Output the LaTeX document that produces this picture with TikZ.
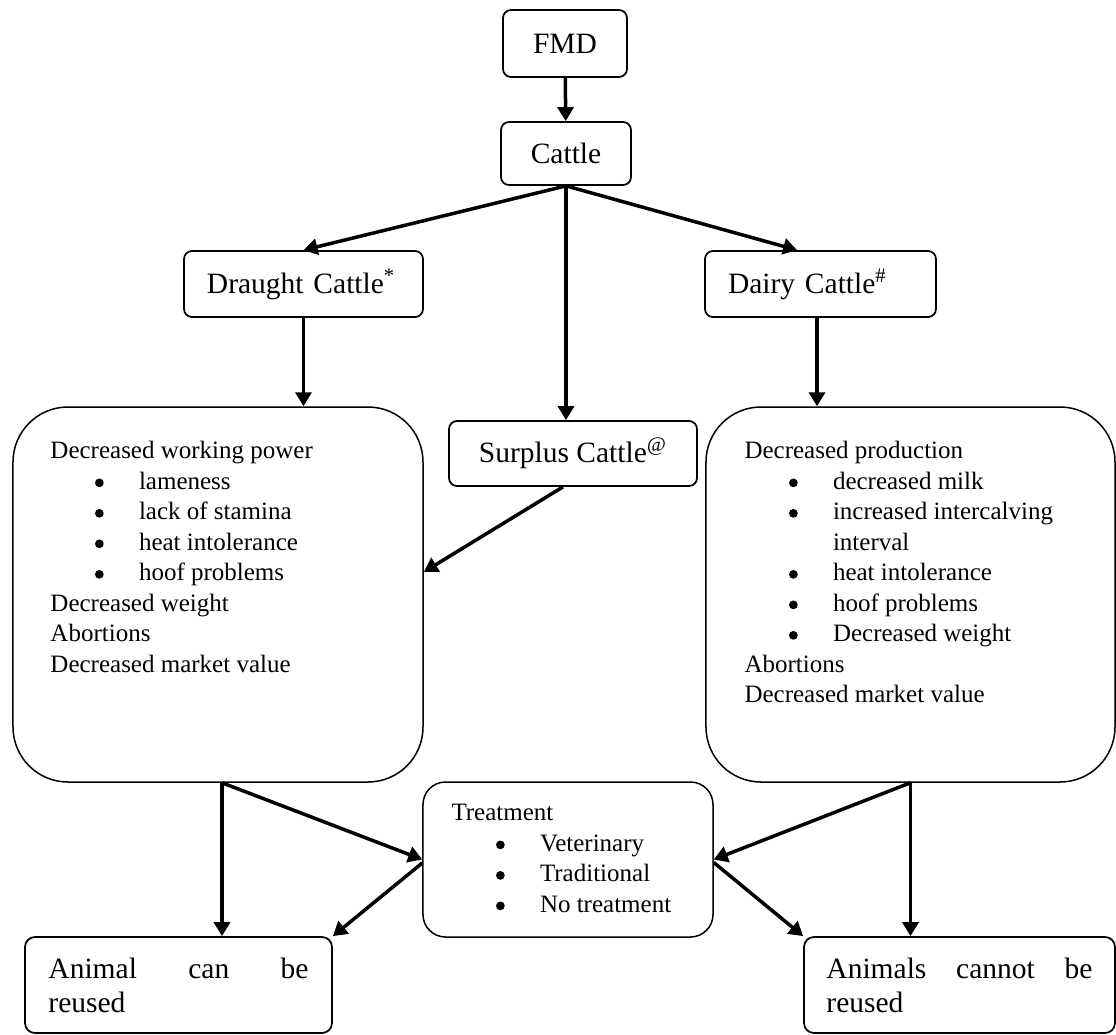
\documentclass[tikz,border=0pt]{standalone}
\usepackage{fontspec}
\setmainfont{Liberation Serif}
\usepackage{tikz}
\usetikzlibrary{arrows.meta}

\newcommand{\blt}{\hspace*{17.8pt}\makebox[17.6pt][l]{\tikz[x=1pt, y=1pt, baseline=-2.6pt]\fill (0,0) circle [radius=1.75];}}% bullet line

\tikzset{
  box/.style={draw, line width=0.7pt, rounded corners=3.2pt, inner sep=0pt,
    font=\fontsize{11.8}{13.6}\selectfont},
  bigbox/.style={draw, line width=0.6pt, rounded corners=22pt, inner sep=0pt},
  listtext/.style={anchor=north west, inner sep=0pt, align=left,
    font=\fontsize{10}{12.2}\selectfont},
  arr/.style={line width=1.4pt, -{Triangle[length=5.6pt, width=6.4pt]}}
}

\begin{document}
\begin{tikzpicture}[x=0.4pt, y=-0.4pt]
\useasboundingbox (0,0) rectangle (1116,1035);
% top of the tree
\node[box, minimum width=49.6pt, minimum height=26.8pt] (fmd) at (565,43.5) {FMD};
\node[box, minimum width=52pt, minimum height=25.2pt] (cattle) at (566,153.5) {Cattle};
% the three kinds of cattle
\node[box, minimum height=26.4pt, text width=77.2pt, inner xsep=9.2pt, align=left]
  (draught) at (303.5,284) {Draught Cattle\textsuperscript{*}};
\node[box, minimum height=26.4pt, text width=74pt, inner xsep=9.2pt, align=left]
  (dairy) at (820.5,284) {Dairy Cattle\textsuperscript{\#}};
\node[box, minimum width=99.2pt, minimum height=26pt] (surplus) at (573,453.5)
  {Surplus Cattle\textsuperscript{\textit{@}}};
% effects
\node[bigbox, minimum width=164pt, minimum height=150pt] (lbox) at (218,594.5) {};
\node[bigbox, minimum width=163.6pt, minimum height=150pt] (rbox) at (910.5,594.5) {};
\node[listtext] (ltext) at (50,441) {Decreased working power\\
  \blt lameness\\ \blt lack of stamina\\ \blt heat intolerance\\ \blt hoof problems\\
  Decreased weight\\ Abortions\\ Decreased market value};
\node[listtext] (rtext) at (744,441) {Decreased production\\
  \blt decreased milk\\ \blt increased intercalving\\ \hspace*{35.4pt}interval\\
  \blt heat intolerance\\ \blt hoof problems\\ \blt Decreased weight\\
  Abortions\\ Decreased market value};
% treatment and outcome
\node[bigbox, rounded corners=9pt, minimum width=116pt, minimum height=62pt]
  (treat) at (568,859.5) {};
\node[listtext] (ttext) at (451,804) {Treatment\\
  \blt Veterinary\\ \blt Traditional\\ \blt No treatment};
\node[box, rounded corners=4pt, minimum width=122.8pt, minimum height=38.4pt,
  text width=104pt, align=justify] (animal) at (178.5,985)
  {Animal can be\linebreak reused};
\node[box, rounded corners=4pt, minimum width=124.4pt, minimum height=38.4pt,
  text width=106.4pt, align=justify] (animals) at (959.5,985)
  {Animals cannot be\linebreak reused};

\draw[arr] (fmd) -- (cattle);
\draw[arr] (cattle.south) -- (draught.north);
\draw[arr] (cattle.south) -- ([xshift=37.2pt]dairy.north west);
\draw[arr] (cattle.south) -- (cattle.south |- surplus.north);
\draw[arr] (draught.south) -- (draught.south |- lbox.north);
\draw[arr] ([xshift=-1.4pt]dairy.south) -- ([xshift=-1.4pt]dairy.south |- rbox.north);
\draw[arr] ([xshift=-4pt]surplus.south) -- ([yshift=9pt]lbox.east);
\draw[arr] ([xshift=1.6pt]lbox.south) -- ([xshift=1.6pt]lbox.south |- animal.north);
\draw[arr] ([xshift=1.6pt]lbox.south) -- (treat.west);
\draw[arr] ([yshift=-1.4pt]treat.west) -- (animal.north east);
\draw[arr] (rbox.south) -- (rbox.south |- animals.north);
\draw[arr] (rbox.south) -- (treat.east);
\draw[arr] ([yshift=-1.2pt]treat.east) -- (animals.north west);
\end{tikzpicture}
\end{document}
